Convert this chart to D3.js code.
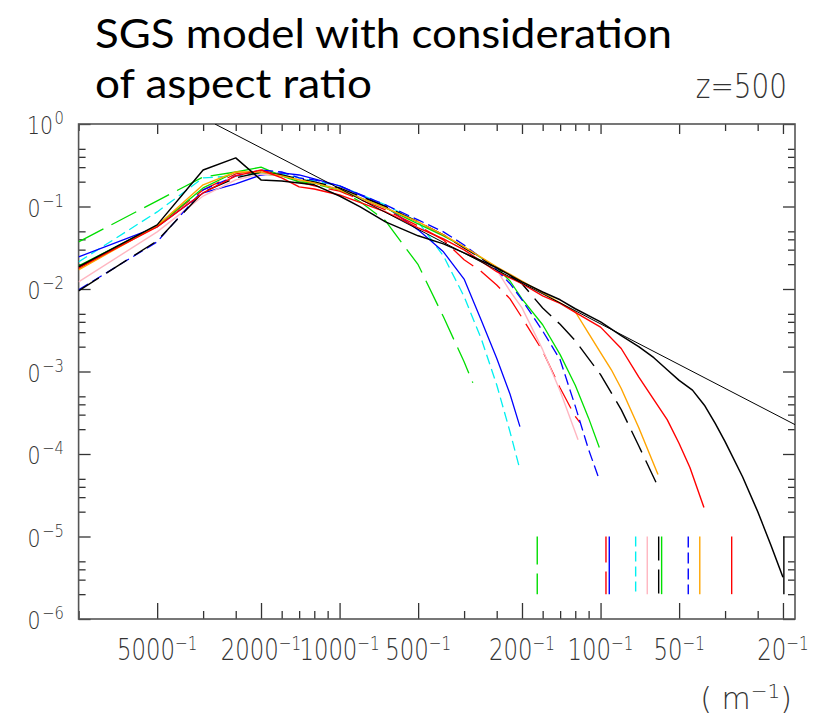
<!DOCTYPE html>
<html lang="en">
  <head>
    <meta charset="UTF-8" />
    <title>SGS model with consideration of aspect ratio</title>
    <script src="https://d3js.org/d3.v7.min.js"></script>
    <style>
      body {
        margin: 0;
        background: #fff;
      }
      svg {
        display: block;
      }
      .title {
        font-family: Lato, "Open Sans", sans-serif;
        font-size: 40px;
        font-weight: 400;
        fill: #000;
      }
      .plot-text {
        font-family: "DejaVu Sans", sans-serif;
        font-weight: 200;
        fill: #333;
      }
      .tick line {
        stroke: #333;
        stroke-width: 1.3;
      }
    </style>
  </head>
  <body>
    <svg width="823" height="723"></svg>
    <script>
      // spectra: [wavenumber k (1/m), energy]
      const blackSolid = [
        [1e-4, 0.0186], [2e-4, 0.0599], [3e-4, 0.277], [4e-4, 0.388], [5e-4, 0.21],
        [6e-4, 0.204], [7e-4, 0.193], [8e-4, 0.183], [1e-3, 0.134], [1.2e-3, 0.099],
        [1.5e-3, 0.0651], [2e-3, 0.0441], [2.5e-3, 0.0352], [3e-3, 0.0274], [4e-3, 0.0181],
        [5e-3, 0.0122], [6e-3, 0.0092], [7e-3, 0.0074], [8e-3, 0.00576], [1e-2, 0.004],
        [1.2e-2, 0.00272], [1.4e-2, 0.002], [1.6e-2, 0.00147], [1.8e-2, 0.00105],
        [2e-2, 0.00078], [2.25e-2, 0.000595], [2.5e-2, 0.00039], [2.75e-2, 0.000235],
        [3e-2, 0.000141], [3.5e-2, 0.000053], [4e-2, 0.0000201], [4.5e-2, 0.0000078],
        [5e-2, 0.0000032],
      ];
      const redSolid = [
        [1e-4, 0.0181], [2e-4, 0.0567], [3e-4, 0.146], [4e-4, 0.235], [5e-4, 0.277],
        [6e-4, 0.222], [7e-4, 0.173], [8e-4, 0.163], [1e-3, 0.138], [1.5e-3, 0.086],
        [2e-3, 0.0551], [2.5e-3, 0.0405], [3e-3, 0.0298], [4e-3, 0.0162], [5e-3, 0.0116],
        [6e-3, 0.00827], [7e-3, 0.0067], [8e-3, 0.0052], [1e-2, 0.00345], [1.2e-2, 0.0019],
        [1.4e-2, 0.00086], [1.6e-2, 0.000456], [1.8e-2, 0.000261], [2e-2, 0.000134],
        [2.2e-2, 0.0000686], [2.49e-2, 0.0000224],
      ];
      const orange = [
        [1e-4, 0.0171], [2e-4, 0.0582], [3e-4, 0.183], [4e-4, 0.262], [5e-4, 0.262],
        [6e-4, 0.235], [7e-4, 0.21], [8e-4, 0.193], [1e-3, 0.159], [1.5e-3, 0.0962],
        [2e-3, 0.0651], [2.5e-3, 0.0454], [3e-3, 0.0324], [4e-3, 0.0186], [5e-3, 0.0125],
        [6e-3, 0.009], [7e-3, 0.0068], [8e-3, 0.0053], [9e-3, 0.0029], [1e-2, 0.00169],
        [1.1e-2, 0.00105], [1.2e-2, 0.000623], [1.4e-2, 0.000209], [1.66e-2, 0.0000563],
      ];
      const blackDashed = [
        [1e-4, 0.00951], [2e-4, 0.0384], [3e-4, 0.15], [4e-4, 0.222], [5e-4, 0.262],
        [6e-4, 0.241], [7e-4, 0.216], [8e-4, 0.1985], [1e-3, 0.168], [1.5e-3, 0.1],
        [2e-3, 0.0651], [2.5e-3, 0.0454], [3e-3, 0.0315], [4e-3, 0.0181], [5e-3, 0.0116],
        [6e-3, 0.00588], [7e-3, 0.00373], [8e-3, 0.00236], [9e-3, 0.00143], [1e-2, 0.000915],
        [1.2e-2, 0.000345], [1.4e-2, 0.000126], [1.66e-2, 0.0000403],
      ];
      const blueDashed = [
        [1e-4, 0.00978], [2e-4, 0.0373], [3e-4, 0.159], [4e-4, 0.235], [5e-4, 0.277],
        [6e-4, 0.262], [7e-4, 0.222], [8e-4, 0.21], [1e-3, 0.178], [1.5e-3, 0.1045],
        [2e-3, 0.0688], [2.5e-3, 0.0493], [3e-3, 0.0342], [4e-3, 0.0171], [4.5e-3, 0.0116],
        [5e-3, 0.0074], [6e-3, 0.0031], [7e-3, 0.00139], [8e-3, 0.00038], [9e-3, 0.000113],
        [9.89e-3, 0.000049],
      ];
      const greenSolid = [
        [1e-4, 0.0191], [2e-4, 0.0582], [3e-4, 0.168], [4e-4, 0.262], [5e-4, 0.3],
        [6e-4, 0.235], [7e-4, 0.1985], [8e-4, 0.193], [1e-3, 0.159], [1.5e-3, 0.0962],
        [2e-3, 0.0616], [2.5e-3, 0.0441], [3e-3, 0.0324], [4e-3, 0.0181], [4.5e-3, 0.0125],
        [5e-3, 0.0076], [6e-3, 0.00369], [7e-3, 0.0016], [8e-3, 0.00068], [9e-3, 0.000272],
        [9.89e-3, 0.00012],
      ];
      const pink = [
        [1e-4, 0.0122], [2e-4, 0.0493], [3e-4, 0.134], [4e-4, 0.21], [5e-4, 0.248],
        [6e-4, 0.235], [7e-4, 0.21], [8e-4, 0.193], [1e-3, 0.164], [1.5e-3, 0.0962],
        [2e-3, 0.0651], [2.5e-3, 0.0454], [3e-3, 0.0315], [3.5e-3, 0.0238], [4e-3, 0.0171],
        [4.5e-3, 0.0094], [5e-3, 0.0059], [6e-3, 0.00184], [7e-3, 0.00058], [8.2e-3, 0.000149],
      ];
      const redDashed = [
        [1e-4, 0.0176], [2e-4, 0.0582], [3e-4, 0.159], [4e-4, 0.248], [5e-4, 0.277],
        [6e-4, 0.241], [7e-4, 0.1985], [8e-4, 0.178], [1e-3, 0.154], [1.5e-3, 0.091],
        [2e-3, 0.0582], [2.5e-3, 0.0394], [3e-3, 0.0226], [3.5e-3, 0.0162], [4e-3, 0.0112],
        [4.5e-3, 0.0076], [5e-3, 0.0045], [6e-3, 0.00177], [7e-3, 0.00063], [8e-3, 0.000285],
        [8.34e-3, 0.00024],
      ];
      const blueSolid = [
        [1e-4, 0.0245], [2e-4, 0.0567], [3e-4, 0.146], [4e-4, 0.188], [5e-4, 0.241],
        [6e-4, 0.255], [7e-4, 0.241], [8e-4, 0.216], [1e-3, 0.178], [1.5e-3, 0.1],
        [2e-3, 0.0521], [2.5e-3, 0.0282], [3e-3, 0.0132], [3.5e-3, 0.00409], [4e-3, 0.00145],
        [4.5e-3, 0.00053], [4.91e-3, 0.000215],
      ];
      const cyanDashed = [
        [1e-4, 0.0213], [2e-4, 0.086], [3e-4, 0.222], [4e-4, 0.235], [5e-4, 0.248],
        [6e-4, 0.248], [7e-4, 0.222], [8e-4, 0.204], [1e-3, 0.178], [1.5e-3, 0.1045],
        [2e-3, 0.0651], [2.5e-3, 0.0252], [3e-3, 0.0081], [3.5e-3, 0.00243], [4e-3, 0.00069],
        [4.5e-3, 0.000185], [4.91e-3, 0.0000647],
      ];
      const greenDashed = [
        [1e-4, 0.0373], [2e-4, 0.117], [3e-4, 0.228], [4e-4, 0.262], [5e-4, 0.248],
        [6e-4, 0.235], [7e-4, 0.21], [8e-4, 0.188], [1e-3, 0.159], [1.2e-3, 0.114],
        [1.5e-3, 0.067], [2e-3, 0.0197], [2.5e-3, 0.0046], [3e-3, 0.00131], [3.24e-3, 0.00073],
      ];

      // k^(-5/3) reference line end points
      const refLine = [[3.33e-4, 1], [0.0556, 2.27e-4]];

      // cut-off wavenumbers marked at the bottom
      const cutoffs = [
        ["greenDashed", 5.72e-3], ["redDashed", 1.049e-2], ["blueSolid", 1.08e-2],
        ["cyanDashed", 1.363e-2], ["pink", 1.51e-2], ["blackDashed", 1.67e-2],
        ["greenSolid", 1.714e-2], ["blueDashed", 2.168e-2], ["orange", 2.4e-2],
        ["redSolid", 3.18e-2], ["blackSolid", 5.04e-2],
      ];
      const cutoffRange = [1e-5, 2e-6];

      const xMajorK = [2e-4, 5e-4, 1e-3, 2e-3, 5e-3, 1e-2, 2e-2, 5e-2];
      const xMajorLabels = ["5000", "2000", "1000", "500", "200", "100", "50", "20"];
      const yDecades = [0, -1, -2, -3, -4, -5, -6];
      const yMinorMantissa = [2, 3, 4, 5];

      const series = {
        greenDashed, cyanDashed, blueSolid, redDashed, pink, greenSolid,
        blueDashed, blackDashed, orange, redSolid, blackSolid,
      };
      const styles = {
        greenDashed: { color: "#00dd00", dash: "28,9", w: 1.3 },
        cyanDashed: { color: "#00f0f0", dash: "10,5", w: 1.3 },
        blueSolid: { color: "#0000ff", dash: null, w: 1.3 },
        redDashed: { color: "#ff0000", dash: "26,9", w: 1.3 },
        pink: { color: "#ffb6c1", dash: null, w: 1.4 },
        greenSolid: { color: "#00e000", dash: null, w: 1.3 },
        blueDashed: { color: "#0000ff", dash: "11,5", w: 1.3 },
        blackDashed: { color: "#000", dash: "24,9", w: 1.4 },
        orange: { color: "#ffa500", dash: null, w: 1.4 },
        redSolid: { color: "#ff0000", dash: null, w: 1.4 },
        blackSolid: { color: "#000", dash: null, w: 1.5 },
      };

      const svg = d3.select("svg");
      const plotLeft = 78.6, plotRight = 795, plotTop = 124, plotBottom = 619;

      const x = d3.scaleLog().domain([1e-4, 0.0556]).range([plotLeft, plotRight]);
      const y = d3.scaleLog().domain([1e-6, 1]).range([plotBottom, plotTop]);

      // title
      svg.append("text").attr("class", "title")
        .attr("x", 95).attr("y", 48)
        .attr("textLength", 577).attr("lengthAdjust", "spacingAndGlyphs")
        .text("SGS model with consideration");
      svg.append("text").attr("class", "title")
        .attr("x", 95).attr("y", 98)
        .attr("textLength", 277).attr("lengthAdjust", "spacingAndGlyphs")
        .text("of aspect ratio");

      svg.append("text").attr("class", "plot-text")
        .attr("transform", "translate(787,98) scale(0.82,1)")
        .attr("text-anchor", "end")
        .style("font-size", "34px")
        .text("z=500");

      const defs = svg.append("defs");
      defs.append("clipPath").attr("id", "plot")
        .append("rect")
        .attr("x", plotLeft).attr("y", plotTop)
        .attr("width", plotRight - plotLeft).attr("height", plotBottom - plotTop);
      // the source picture is cut at its left edge, hiding the leading "1"
      defs.append("clipPath").attr("id", "leftcut")
        .append("rect")
        .attr("x", 26).attr("y", 0)
        .attr("width", 60).attr("height", 723);

      // ticks
      const xMinorK = x.ticks().filter((k) => !xMajorK.some((m) => Math.abs(m - k) / k < 1e-6));
      const yMajorE = yDecades.map((d) => Math.pow(10, d));
      const yMinorE = y.ticks().filter((e) => {
        const m = Math.round(e / Math.pow(10, Math.floor(Math.log10(e) + 1e-9)));
        return yMinorMantissa.includes(m);
      });

      function tickAxis(axis, transform, values, size) {
        const g = svg.append("g").attr("transform", transform)
          .call(axis.tickValues(values).tickSize(size).tickSizeOuter(0).tickFormat(""));
        g.select(".domain").remove();
      }
      tickAxis(d3.axisBottom(x), `translate(0,${plotBottom})`, xMajorK, -16);
      tickAxis(d3.axisBottom(x), `translate(0,${plotBottom})`, xMinorK, -8);
      tickAxis(d3.axisTop(x), `translate(0,${plotTop})`, xMajorK, -10);
      tickAxis(d3.axisTop(x), `translate(0,${plotTop})`, xMinorK, -7);
      tickAxis(d3.axisLeft(y), `translate(${plotLeft},0)`, yMajorE, -12);
      tickAxis(d3.axisLeft(y), `translate(${plotLeft},0)`, yMinorE, -7);
      tickAxis(d3.axisRight(y), `translate(${plotRight},0)`, yMajorE, -12);
      tickAxis(d3.axisRight(y), `translate(${plotRight},0)`, yMinorE, -7);

      svg.append("rect")
        .attr("x", plotLeft).attr("y", plotTop)
        .attr("width", plotRight - plotLeft).attr("height", plotBottom - plotTop)
        .attr("fill", "none").attr("stroke", "#555").attr("stroke-width", 1.6);

      // tick labels
      xMajorK.forEach((k, i) => {
        const t = svg.append("text").attr("class", "plot-text")
          .attr("transform", `translate(${x(k)},660) scale(0.76,1)`)
          .attr("text-anchor", "middle")
          .style("font-size", "30px");
        t.append("tspan").text(xMajorLabels[i]);
        t.append("tspan").attr("dy", -10).style("font-size", "20px").text("\u22121");
      });

      const yLabels = svg.append("g").attr("clip-path", "url(#leftcut)");
      yDecades.forEach((d) => {
        const t = yLabels.append("text").attr("class", "plot-text")
          .attr("transform", `translate(64,${y(Math.pow(10, d)) + 10}) scale(0.82,1)`)
          .attr("text-anchor", "end")
          .style("font-size", "25px");
        t.append("tspan").text("10");
        t.append("tspan").attr("dy", -10).attr("dx", 2).style("font-size", "18px")
          .text(d === 0 ? "0" : "\u2212" + -d);
      });

      const unit = svg.append("text").attr("class", "plot-text")
        .attr("x", 792).attr("y", 709)
        .attr("text-anchor", "end")
        .style("font-size", "30px");
      unit.append("tspan").text("( m");
      unit.append("tspan").attr("dy", -11).style("font-size", "20px").text("\u22121");
      unit.append("tspan").attr("dy", 11).text(")");

      // curves
      const line = d3.line().x((d) => x(d[0])).y((d) => y(d[1]));
      const plot = svg.append("g").attr("clip-path", "url(#plot)");

      Object.keys(series).forEach((name) => {
        const s = styles[name];
        plot.append("path")
          .datum(series[name])
          .attr("d", line)
          .attr("fill", "none")
          .attr("stroke", s.color)
          .attr("stroke-width", s.w)
          .attr("stroke-dasharray", s.dash)
          .attr("stroke-linejoin", "round");
      });

      plot.append("path")
        .datum(refLine)
        .attr("d", line)
        .attr("fill", "none")
        .attr("stroke", "#000")
        .attr("stroke-width", 1);

      plot.selectAll(".cutoff")
        .data(cutoffs)
        .join("line")
        .attr("class", "cutoff")
        .attr("x1", (d) => x(d[1]))
        .attr("x2", (d) => x(d[1]))
        .attr("y1", y(cutoffRange[0]))
        .attr("y2", y(cutoffRange[1]))
        .attr("stroke", (d) => styles[d[0]].color)
        .attr("stroke-width", 1.4)
        .attr("stroke-dasharray", (d) => styles[d[0]].dash);
    </script>
  </body>
</html>
